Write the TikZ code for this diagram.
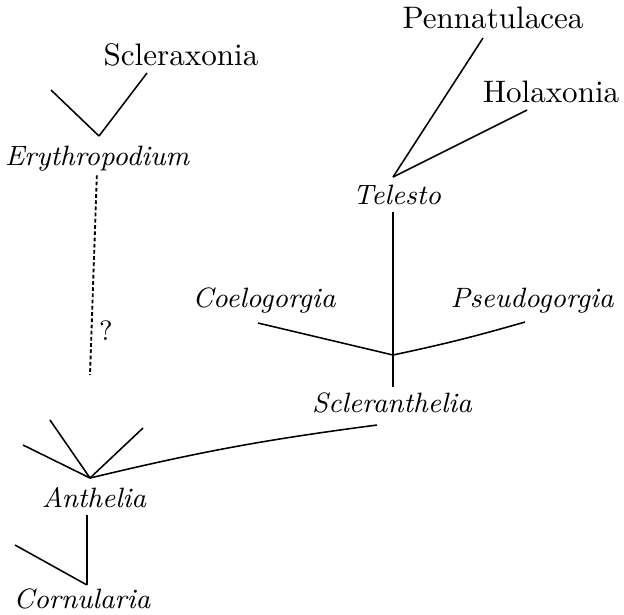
\documentclass[tikz,border=0pt]{standalone}
\usetikzlibrary{calc}

\begin{document}
\begin{tikzpicture}[x=0.0113cm,y=-0.0113cm,
    lbl/.style={inner sep=0pt,outer sep=0pt,anchor=base},
    taxon/.style={lbl,font=\small\itshape},
    branch/.style={line width=0.5pt},
    dotline/.style={line width=0.6pt,dash pattern=on 1.2pt off 0.8pt}]
           \useasboundingbox (0,0) rectangle (624,614);

           % names
           \node[lbl] (Scx) at (181,65) {Scleraxonia};
           \node[lbl] (Pen) at (493,28) {Pennatulacea};
           \node[lbl] (Hol) at (551,102) {Holaxonia};
           \node[taxon] (Ery) at (97,165) {Erythropodium};
           \node[taxon] (Tel) at (397,204) {Telesto};
           \node[taxon] (Coe) at (264,307) {Coelogorgia};
           \node[taxon] (Pse) at (532,307) {Pseudogorgia};
           \node[taxon] (Scl) at (392,412) {Scleranthelia};
           \node[taxon] (Ant) at (94,507) {Anthelia};
           \node[taxon] (Cor) at (82,608) {Cornularia};
           \node[lbl,font=\small] (Q) at (106,340) {?};

           % branch points and free ends
           \coordinate (jEry) at (99,136);
           \coordinate (sL) at (51,90);
           \coordinate (sR) at (147,73);
           \coordinate (dBot) at (90,375);
           \coordinate (jTel) at (393,177);
           \coordinate (pTip) at (483,38);
           \coordinate (hTip) at (527,110);
           \coordinate (jScl) at (393,355);
           \coordinate (cTip) at (258,323);
           \coordinate (psTip) at (525,322);
           \coordinate (sTip) at (377,425);
           \coordinate (jAnt) at (90,478);
           \coordinate (a1) at (23,445);
           \coordinate (a2) at (50,420);
           \coordinate (a3) at (143,428);
           \coordinate (jCor) at (87,585);
           \coordinate (cL) at (15,545);

           \draw[branch] (sL) edge (jEry);
           \draw[branch] (sR) edge (jEry);
           \draw[dotline,shorten <=1.5pt] (Ery.south) -- (dBot);

           \draw[branch] (pTip) edge (jTel);
           \draw[branch] (hTip) edge (jTel);
           \draw[branch,shorten <=2.4pt,shorten >=1.8pt] (Tel.south -| jScl) -- (Scl.north -| jScl);
           \draw[branch] (cTip) edge (jScl);
           \draw[branch] (psTip) edge[bend left=2] (jScl);

           \draw[branch] (jAnt) edge[bend left=3] (sTip);
           \draw[branch] (a1) edge (jAnt);
           \draw[branch] (a2) edge (jAnt);
           \draw[branch] (a3) edge (jAnt);
           \draw[branch,shorten <=2.6pt] (Ant.south -| jCor) -- (jCor);
           \draw[branch] (cL) edge (jCor);
         \end{tikzpicture}
\end{document}
